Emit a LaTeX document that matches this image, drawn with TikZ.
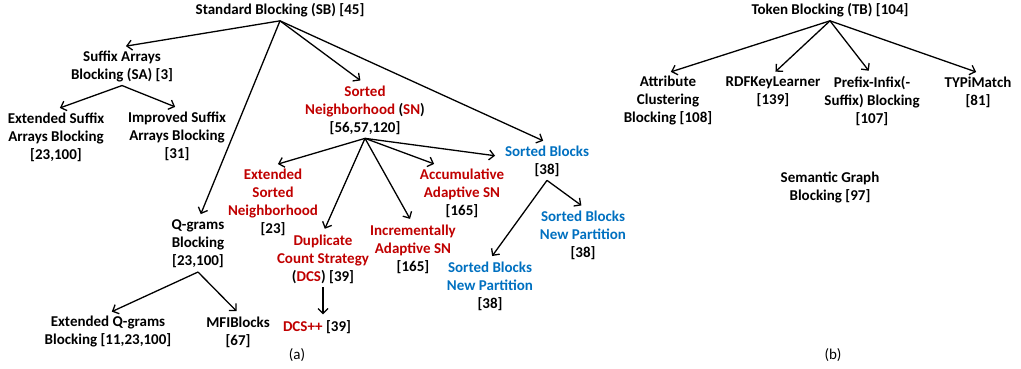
\documentclass[tikz,border=0pt]{standalone}
\usepackage{fontspec}
\setmainfont{Carlito}
\usetikzlibrary{arrows.meta,calc}
\definecolor{snred}{HTML}{C00000}
\definecolor{sbblue}{HTML}{0070C0}
\tikzset{
  lbl/.style={align=center, inner sep=1pt, outer sep=3pt, font=\fontsize{15}{18}\selectfont\bfseries},
  arr/.style={line width=1.3pt, -{Straight Barb[length=5pt,width=10pt]}, shorten >=2pt},
  sublabel/.style={inner sep=0pt, font=\fontsize{15}{16}\selectfont}
}
\newcommand{\R}[1]{\textcolor{snred}{#1}}
\newcommand{\Bl}[1]{\textcolor{sbblue}{#1}}
\begin{document}
\begin{tikzpicture}[x=1pt,y=-1pt]
\useasboundingbox (0,0) rectangle (1021,369);
% (a)
\node[lbl] (sb) at (280,10) {Standard Blocking (SB) [45]};
\node[lbl] (sa) at (122,66) {Suffix Arrays\\Blocking (SA) [3]};
\node[lbl] (esa) at (56,137) {Extended Suffix\\Arrays Blocking\\{}[23,100]};
\node[lbl] (isa) at (177,136) {Improved Suffix\\Arrays Blocking\\{}[31]};
\node[lbl] (sn) at (365,110) {\R{Sorted}\\\R{Neighborhood} (\R{SN})\\{}[56,57,120]};
\node[lbl] (qg) at (198,244) {Q-grams\\Blocking\\{}[23,100]};
\node[lbl] (eq) at (108,332) {Extended Q-grams\\Blocking [11,23,100]};
\node[lbl] (mfi) at (238,332) {MFIBlocks\\{}[67]};
\node[lbl] (esn) at (273,202) {\R{Extended}\\\R{Sorted}\\\R{Neighborhood}\\{}[23]};
\node[lbl] (dcs) at (323,259) {\R{Duplicate}\\\R{Count Strategy}\\(\R{DCS}) [39]};
\node[lbl] (dcspp) at (317,327) {\R{DCS++} [39]};
\node[lbl] (isn) at (413,249) {\R{Incrementally}\\\R{Adaptive SN}\\{}[165]};
\node[lbl] (aasn) at (462,193) {\R{Accumulative}\\\R{Adaptive SN}\\{}[165]};
\node[lbl] (sbk) at (547,161) {\Bl{Sorted Blocks}\\{}[38]};
\node[lbl] (sbnpa) at (583,235) {\Bl{Sorted Blocks}\\\Bl{New Partition}\\{}[38]};
\node[lbl] (sbnpb) at (490,286) {\Bl{Sorted Blocks}\\\Bl{New Partition}\\{}[38]};
\node[sublabel] (capa) at (297,355) {(a)};
% (b)
\node[lbl] (tb) at (830,10) {Token Blocking (TB) [104]};
\node[lbl] (acb) at (668,101) {Attribute\\Clustering\\Blocking [108]};
\node[lbl] (rdf) at (773,92) {RDFKeyLearner\\{}[139]};
\node[lbl] (pis) at (872,101) {Prefix-Infix(-\\Suffix) Blocking\\{}[107]};
\node[lbl] (typ) at (978,92) {TYPiMatch\\{}[81]};
\node[lbl] (sgb) at (830,187) {Semantic Graph\\Blocking [97]};
\node[sublabel] (capb) at (833,355) {(b)};
% connectors
\draw[arr] (sb.south) -- ([xshift=2pt]sa.north);
\draw[arr] (sb.south) -- ([xshift=2pt]qg.north);
\draw[arr] (sb.south) -- ([xshift=-3pt]sn.north);
\draw[arr] (sb.south) -- ([xshift=-2pt]sbk.north);
\draw[arr] (sa.south) -- ([xshift=2pt]esa.north);
\draw[arr] (sa.south) -- (isa.north);
\draw[arr] (sn.south) -- ([xshift=3pt]esn.north);
\draw[arr] (sn.south) -- ([xshift=1pt]dcs.north);
\draw[arr] (sn.south) -- ([xshift=-2pt]isn.north);
\draw[arr] (sn.south) -- ([xshift=-26pt]aasn.north);
\draw[arr] (sn.south) -- ([xshift=-4pt,yshift=5pt]sbk.west);
\draw[arr] (sbk.south) -- (sbnpa.north);
\draw[arr] (sbk.south) -- ([xshift=1pt]sbnpb.north);
\draw[arr] (qg.south) -- ([xshift=2pt]eq.north);
\draw[arr] (qg.south) -- (mfi.north);
\draw[arr] (dcs.south) -- ([xshift=6pt]dcspp.north);
\draw[arr] (tb.south) -- ([xshift=1pt]acb.north);
\draw[arr] (tb.south) -- ([xshift=1pt]rdf.north);
\draw[arr] (tb.south) -- ([xshift=-2pt]pis.north);
\draw[arr] (tb.south) -- (typ.north);
\end{tikzpicture}
\end{document}
